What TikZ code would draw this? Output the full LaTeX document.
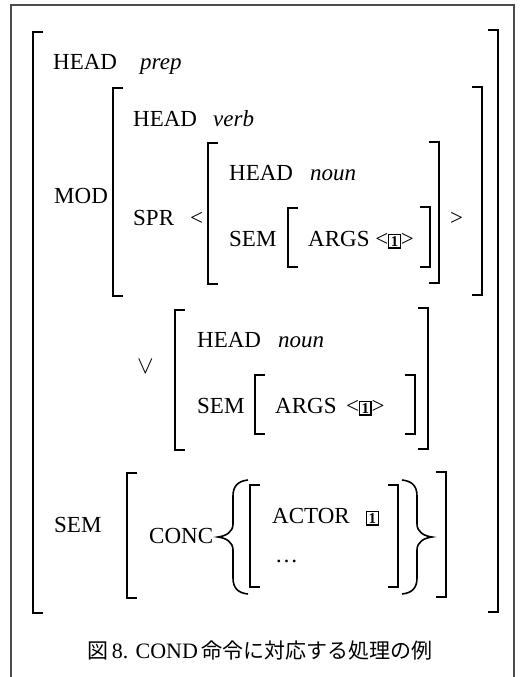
\documentclass[tikz,border=0pt]{standalone}
\usepackage{fontspec}
\setmainfont{Liberation Serif}
\newfontfamily\cjk{Noto Sans CJK JP}
\newcommand{\idxone}{\begingroup\setlength{\fboxsep}{1.3pt}\setlength{\fboxrule}{1.2pt}\fbox{\fontsize{15}{15}\selectfont\bfseries 1}\endgroup}
\tikzset{
  avm/.style={anchor=base west, inner sep=0pt, font=\fontsize{23}{27}\selectfont},
  brk/.style={line width=1.6pt, line cap=butt},
  frameline/.style={line width=1.1pt, black!70},
}
\begin{document}
\begin{tikzpicture}[x=1pt, y=-1pt]
\useasboundingbox (0,0) rectangle (532,677);
\draw[frameline] (11,677) -- (11,5) -- (514,5) -- (514,677);

% outer brackets
\draw[brk] (43,32) -- (33,32) -- (33,613) -- (43,613);
\draw[brk] (488,30) -- (498,30) -- (498,612) -- (488,612);
\node[avm] (headA) at (53,70) {HEAD};
\node[avm] (prepA) at (140,70) {\textit{prep}};

% MOD
\node[avm] (modA) at (54,203) {MOD};
\draw[brk] (123,88) -- (113,88) -- (113,296) -- (123,296);
\draw[brk] (472,87) -- (482,87) -- (482,295) -- (472,295);
\node[avm] (headB) at (133,126) {HEAD};
\node[avm] (verbB) at (213,126) {\textit{verb}};
\node[avm] (sprB) at (133,225) {SPR};
\node[avm] (ltB) at (190,225) {<};
\node[avm] (gtB) at (450,225) {>};
\draw[brk] (218,143) -- (208,143) -- (208,284) -- (218,284);
\draw[brk] (429,142) -- (439,142) -- (439,283) -- (429,283);
\node[avm] (headC) at (229,180) {HEAD};
\node[avm] (nounC) at (310,180) {\textit{noun}};
\node[avm] (semC) at (229,246) {SEM};
\draw[brk] (298,208) -- (288,208) -- (288,267) -- (298,267);
\draw[brk] (420,207) -- (430,207) -- (430,267) -- (420,267);
\node[avm] (argsC) at (308,246) {ARGS <\idxone>};

% disjunct
\node[avm] (veeD) at (137,373) {$\vee$};
\draw[brk] (185,310) -- (175,310) -- (175,450) -- (185,450);
\draw[brk] (418,308) -- (428,308) -- (428,449) -- (418,449);
\node[avm] (headD) at (197,347) {HEAD};
\node[avm] (nounD) at (278,347) {\textit{noun}};
\node[avm] (semD) at (197,413) {SEM};
\draw[brk] (265,375) -- (255,375) -- (255,434) -- (265,434);
\draw[brk] (405,375) -- (415,375) -- (415,434) -- (405,434);
\node[avm] (argsD) at (275,413) {ARGS \,<\idxone>};

% SEM
\node[avm] (semE) at (54,532) {SEM};
\draw[brk] (137,473) -- (127,473) -- (127,598) -- (137,598);
\draw[brk] (436,472) -- (446,472) -- (446,597) -- (436,597);
\node[avm] (concE) at (149,543) {CONC};
\draw[brk] (248,480) .. controls (238,481) and (233,486) .. (233,496) -- (233,524)
  .. controls (233,532) and (226,536) .. (218,537) .. controls (226,538) and (233,542) .. (233,550)
  -- (233,578) .. controls (233,588) and (238,593) .. (248,594);
\draw[brk] (402,480) .. controls (412,481) and (417,486) .. (417,496) -- (417,524)
  .. controls (417,532) and (424,536) .. (432,537) .. controls (424,538) and (417,542) .. (417,550)
  -- (417,578) .. controls (417,588) and (412,593) .. (402,594);
\draw[brk] (260,485) -- (250,485) -- (250,587) -- (260,587);
\draw[brk] (388,485) -- (398,485) -- (398,587) -- (388,587);
\node[avm] (actorE) at (272,523) {ACTOR};
\node[avm] (tagE) at (366,523) {\idxone};
\node[avm] (dotsE) at (275,562) {\ldots};

\node (caption) at (260,651) {\fontsize{21}{24}\selectfont\cjk 図\,{\rmfamily\fontsize{22}{24}\selectfont 8.\,\,COND\,}命令に対応する処理の例};
\end{tikzpicture}
\end{document}
